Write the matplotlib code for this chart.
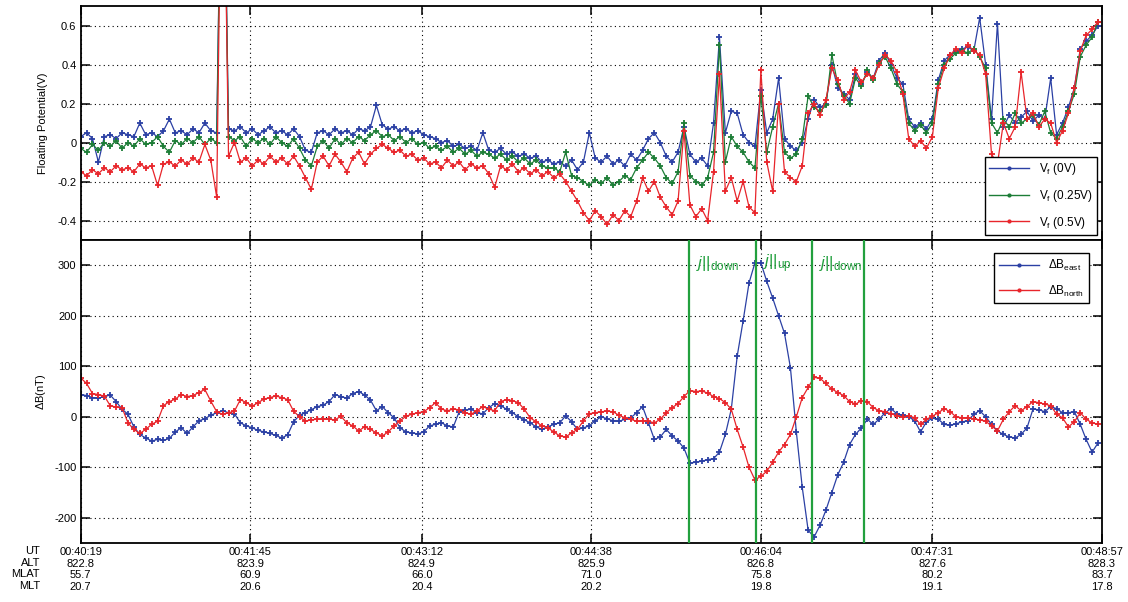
import numpy as np
import matplotlib
matplotlib.use('Agg')
import matplotlib.pyplot as plt
from matplotlib.lines import Line2D

plt.rcParams['font.family'] = 'Liberation Sans'
plt.rcParams['axes.unicode_minus'] = False
plt.rcParams['mathtext.fontset'] = 'custom'
plt.rcParams['mathtext.rm'] = 'Liberation Sans'
plt.rcParams['mathtext.it'] = 'Liberation Sans:italic'

# sample times, seconds after 00:40:19 (one reading every 3 s)
t = np.arange(0, 519, 3)

# floating potential (V) for the three probe biases
vf_0v = [0.03, 0.05, 0.02, -0.10, 0.03, 0.04, 0.02, 0.05, 0.04, 0.03,
         0.10, 0.04, 0.05, 0.03, 0.06, 0.12, 0.05, 0.06, 0.04, 0.07,
         0.05, 0.10, 0.06, 0.05, 2.0, 0.07, 0.06, 0.08, 0.05, 0.07,
         0.04, 0.06, 0.08, 0.05, 0.06, 0.04, 0.07, 0.03, -0.04, -0.05,
         0.05, 0.06, 0.04, 0.07, 0.05, 0.06, 0.04, 0.07, 0.06, 0.08,
         0.19, 0.09, 0.07, 0.08, 0.06, 0.07, 0.05, 0.06, 0.04, 0.03,
         0.02, 0.00, 0.01, -0.02, -0.01, -0.03, -0.02, -0.04, 0.05, -0.04,
         -0.05, -0.03, -0.06, -0.05, -0.07, -0.06, -0.08, -0.07, -0.10, -0.09,
         -0.11, -0.10, -0.12, -0.09, -0.14, -0.10, 0.05, -0.08, -0.10, -0.07,
         -0.11, -0.09, -0.12, -0.06, -0.09, -0.04, 0.02, 0.05, 0.00, -0.07,
         -0.10, -0.05, 0.08, -0.06, -0.10, -0.08, -0.12, 0.10, 0.54, 0.05,
         0.16, 0.15, 0.04, 0.00, -0.02, 0.27, 0.05, 0.12, 0.33, 0.02,
         -0.02, -0.04, 0.00, 0.12, 0.22, 0.18, 0.20, 0.40, 0.28, 0.25,
         0.22, 0.35, 0.30, 0.36, 0.33, 0.42, 0.46, 0.40, 0.33, 0.30,
         0.12, 0.08, 0.10, 0.07, 0.12, 0.32, 0.42, 0.45, 0.47, 0.48,
         0.49, 0.47, 0.64, 0.40, 0.12, 0.61, 0.08, 0.14, 0.10, 0.13,
         0.16, 0.11, 0.14, 0.12, 0.33, 0.04, 0.10, 0.18, 0.28, 0.48,
         0.52, 0.55, 0.60]

vf_025v = [-0.03, -0.05, -0.01, -0.04, 0.00, -0.02, 0.01, -0.03, 0.00, -0.02,
           0.02, -0.01, 0.00, 0.03, -0.02, -0.05, 0.01, -0.01, 0.02, 0.00,
           0.03, -0.01, 0.02, 0.00, 2.0, 0.03, 0.01, 0.03, -0.02, 0.02,
           0.00, 0.02, -0.01, 0.03, 0.00, -0.02, 0.02, -0.03, -0.09, -0.12,
           -0.02, 0.01, -0.03, 0.02, -0.01, 0.02, 0.00, 0.03, 0.01, 0.04,
           0.06, 0.03, 0.04, 0.01, 0.03, 0.00, 0.02, -0.01, 0.00, -0.03,
           -0.02, -0.04, -0.02, -0.05, -0.03, -0.06, -0.04, -0.07, -0.05, -0.06,
           -0.08, -0.06, -0.09, -0.07, -0.10, -0.08, -0.11, -0.09, -0.12, -0.13,
           -0.13, -0.15, -0.05, -0.17, -0.18, -0.20, -0.22, -0.19, -0.21, -0.18,
           -0.22, -0.20, -0.17, -0.19, -0.13, -0.09, -0.05, -0.08, -0.12, -0.18,
           -0.21, -0.15, 0.10, -0.17, -0.20, -0.22, -0.18, -0.05, 0.50, -0.10,
           0.03, -0.02, -0.05, -0.10, -0.13, 0.24, -0.05, 0.08, 0.20, -0.05,
           -0.08, -0.06, 0.02, 0.24, 0.18, 0.16, 0.19, 0.45, 0.30, 0.24,
           0.20, 0.33, 0.29, 0.37, 0.32, 0.41, 0.44, 0.38, 0.30, 0.26,
           0.10, 0.06, 0.09, 0.05, 0.10, 0.30, 0.40, 0.43, 0.46, 0.47,
           0.46, 0.48, 0.44, 0.38, 0.10, 0.05, 0.12, 0.08, 0.15, 0.10,
           0.12, 0.14, 0.09, 0.16, 0.05, 0.02, 0.08, 0.16, 0.25, 0.44,
           0.50, 0.54, 0.62]

vf_05v = [-0.15, -0.17, -0.14, -0.16, -0.13, -0.15, -0.12, -0.14, -0.13, -0.15,
          -0.11, -0.13, -0.12, -0.22, -0.11, -0.10, -0.12, -0.09, -0.11, -0.08,
          -0.10, -0.01, -0.09, -0.28, 2.0, -0.07, 0.00, -0.10, -0.08, -0.12,
          -0.09, -0.11, -0.07, -0.10, -0.08, -0.11, -0.07, -0.12, -0.18, -0.24,
          -0.10, -0.07, -0.12, -0.06, -0.10, -0.15, -0.08, -0.05, -0.11, -0.06,
          -0.03, -0.01, -0.03, -0.05, -0.04, -0.07, -0.06, -0.09, -0.08, -0.11,
          -0.10, -0.13, -0.09, -0.12, -0.10, -0.14, -0.11, -0.13, -0.12, -0.16,
          -0.23, -0.12, -0.14, -0.11, -0.15, -0.13, -0.16, -0.14, -0.17, -0.15,
          -0.18, -0.16, -0.20, -0.25, -0.30, -0.36, -0.40, -0.35, -0.38, -0.42,
          -0.37, -0.40, -0.35, -0.38, -0.30, -0.18, -0.25, -0.20, -0.28, -0.33,
          -0.37, -0.30, 0.06, -0.32, -0.38, -0.34, -0.40, -0.15, 0.35, -0.25,
          -0.18, -0.30, -0.20, -0.33, -0.36, 0.37, -0.10, -0.25, 0.20, -0.15,
          -0.18, -0.20, -0.12, 0.15, 0.20, 0.14, 0.22, 0.38, 0.32, 0.22,
          0.26, 0.37, 0.31, 0.35, 0.33, 0.40, 0.45, 0.42, 0.36, 0.25,
          0.02, -0.02, 0.01, -0.03, 0.03, 0.28, 0.38, 0.45, 0.48, 0.46,
          0.50, 0.47, 0.45, 0.35, -0.06, -0.11, 0.10, 0.02, 0.08, 0.36,
          0.12, 0.15, 0.08, 0.12, 0.10, 0.00, 0.06, 0.15, 0.28, 0.47,
          0.55, 0.58, 0.62]

# magnetic field perturbation (nT)
db_east = [44, 42, 38, 37, 40, 43, 30, 15, 5, -20,
           -35, -42, -48, -45, -47, -43, -30, -22, -33, -20,
           -8, -4, 3, 8, 12, 8, 6, -12, -18, -22,
           -27, -30, -33, -37, -42, -36, -10, 3, 8, 14,
           20, 23, 30, 44, 40, 37, 46, 50, 43, 33,
           12, 20, 8, -2, -22, -30, -32, -34, -30, -18,
           -15, -12, -18, -20, 10, 13, 15, 8, 6, 18,
           26, 22, 15, 8, 0, -6, -12, -20, -25, -20,
           -15, -12, 2, -10, -25, -22, -18, -8, 0, -4,
           -8, -9, -5, -2, 8, 20, -12, -45, -40, -25,
           -38, -48, -62, -92, -90, -88, -85, -83, -70, -35,
           15, 120, 190, 265, 305, 305, 268, 235, 200, 165,
           97, -30, -140, -225, -238, -215, -185, -150, -115, -90,
           -55, -35, -22, -5, -15, -5, 8, 16, 6, 3,
           0, -8, -30, -10, -3, -5, -15, -17, -14, -10,
           -8, 5, 12, 0, -15, -28, -35, -40, -42, -35,
           -22, 15, 14, 10, 20, 16, 8, 8, 10, -15,
           -45, -70, -52]

db_north = [77, 66, 46, 44, 41, 22, 19, 18, -12, -25,
            -33, -25, -15, -9, 22, 30, 35, 44, 40, 42,
            48, 54, 31, 10, 5, 8, 11, 34, 28, 21,
            28, 35, 38, 41, 38, 34, 11, 0, -9, -6,
            -5, -4, -5, -6, 1, -12, -18, -28, -20, -25,
            -32, -38, -30, -18, -8, 1, 5, 8, 10, 18,
            28, 15, 12, 15, 14, 8, 5, 12, 20, 15,
            12, 30, 34, 32, 28, 15, -2, -10, -18, -22,
            -30, -38, -40, -32, -25, -8, 6, 8, 10, 11,
            10, 3, -2, -5, -9, -8, -9, -12, -5, 8,
            18, 26, 40, 52, 50, 51, 47, 40, 36, 28,
            15, -25, -60, -100, -125, -118, -108, -90, -70, -55,
            -35, 0, 38, 58, 78, 76, 66, 55, 48, 42,
            30, 25, 32, 30, 18, 12, 10, 6, 2, 0,
            2, -2, -15, -5, 1, 8, 16, 10, 0, -2,
            -2, -4, -6, -9, -18, -28, -5, 10, 22, 12,
            20, 30, 28, 25, 22, 5, -2, -20, -10, 8,
            -5, -12, -15]

# orbit labels under the time axis
tick_sec = [0, 86, 173, 259, 345, 432, 518]
ut = ['00:40:19', '00:41:45', '00:43:12', '00:44:38', '00:46:04', '00:47:31', '00:48:57']
alt = ['822.8', '823.9', '824.9', '825.9', '826.8', '827.6', '828.3']
mlat = ['55.7', '60.9', '66.0', '71.0', '75.8', '80.2', '83.7']
mlt = ['20.7', '20.6', '20.4', '20.2', '19.8', '19.1', '17.8']

# field-aligned current boundaries (s) and their labels
fac_sec = [308.8, 342.5, 370.8, 397.5]
fac_names = ['down', 'up', 'down']

blue = '#2b40a4'
green = '#1c7d36'
red = '#e8252b'
line_green = '#22a03e'

fig = plt.figure(figsize=(11.28, 6.02), dpi=100)
ax1 = fig.add_axes([0.0715, 0.6013, 0.9054, 0.3887])
ax2 = fig.add_axes([0.0715, 0.0980, 0.9054, 0.5033], sharex=ax1)

mk = dict(marker='+', ms=4.5, mew=1.3, lw=0.9)
ax1.plot(t, vf_0v, color=blue, **mk)
ax1.plot(t, vf_025v, color=green, **mk)
ax1.plot(t, vf_05v, color=red, **mk)

ax2.plot(t, db_east, color=blue, **mk)
ax2.plot(t, db_north, color=red, **mk)

for s in fac_sec:
    ax2.axvline(s, color=line_green, lw=1.6, zorder=5)
for i, name in enumerate(fac_names):
    ax2.text(fac_sec[i] + 3.5, 303, r'$\mathit{j}$||$_{\rm %s}$' % name,
             color=line_green, fontsize=12, va='center', ha='left', zorder=6)

ax1.set_xlim(0, 518)
ax1.set_ylim(-0.5, 0.7)
ax2.set_ylim(-250, 350)

ax1.set_yticks([-0.4, -0.2, 0, 0.2, 0.4, 0.6])
ax1.set_yticklabels(['-0.4', '-0.2', '0', '0.2', '0.4', '0.6'])
ax2.set_yticks([-200, -100, 0, 100, 200, 300])
ax2.set_xticks(tick_sec)
ax2.set_xticklabels(['%s\n%s\n%s\n%s' % (ut[i], alt[i], mlat[i], mlt[i])
                     for i in range(len(ut))])
plt.setp(ax1.get_xticklabels(), visible=False)

for ax in (ax1, ax2):
    ax.grid(True, color='k', ls=(0, (1, 3)), lw=0.8)
    ax.tick_params(direction='in', length=6.5, width=1.1, labelsize=8,
                   top=True, right=True, pad=3)
    for sp in ax.spines.values():
        sp.set_linewidth(1.3)

ax1.set_ylabel('Floating Potential(V)', fontsize=8)
ax1.yaxis.set_label_coords(-0.032, 0.5)
ax2.set_ylabel(r'$\Delta$B(nT)', fontsize=8)
ax2.yaxis.set_label_coords(-0.032, 0.5)

fig.text(40 / 1128, 1 - 546 / 602, 'UT\nALT\nMLAT\nMLT', ha='right', va='top',
         fontsize=8, multialignment='right')

h1 = [Line2D([], [], color=c, marker='.', ms=4, lw=1) for c in (blue, green, red)]
ax1.legend(h1, [r'V$_{\rm f}$ (0V)', r'V$_{\rm f}$ (0.25V)', r'V$_{\rm f}$ (0.5V)'],
           loc='lower right', fontsize=8.5, fancybox=False, edgecolor='k',
           framealpha=1, handlelength=3.4, labelspacing=0.9, borderaxespad=0.4)
h2 = [Line2D([], [], color=c, marker='.', ms=4, lw=1) for c in (blue, red)]
ax2.legend(h2, [r'$\Delta$B$_{\rm east}$', r'$\Delta$B$_{\rm north}$'],
           loc='upper right', fontsize=8.5, fancybox=False, edgecolor='k',
           framealpha=1, handlelength=3.4, labelspacing=0.9, borderaxespad=1.1)

fig.savefig('out.png', dpi=100)
